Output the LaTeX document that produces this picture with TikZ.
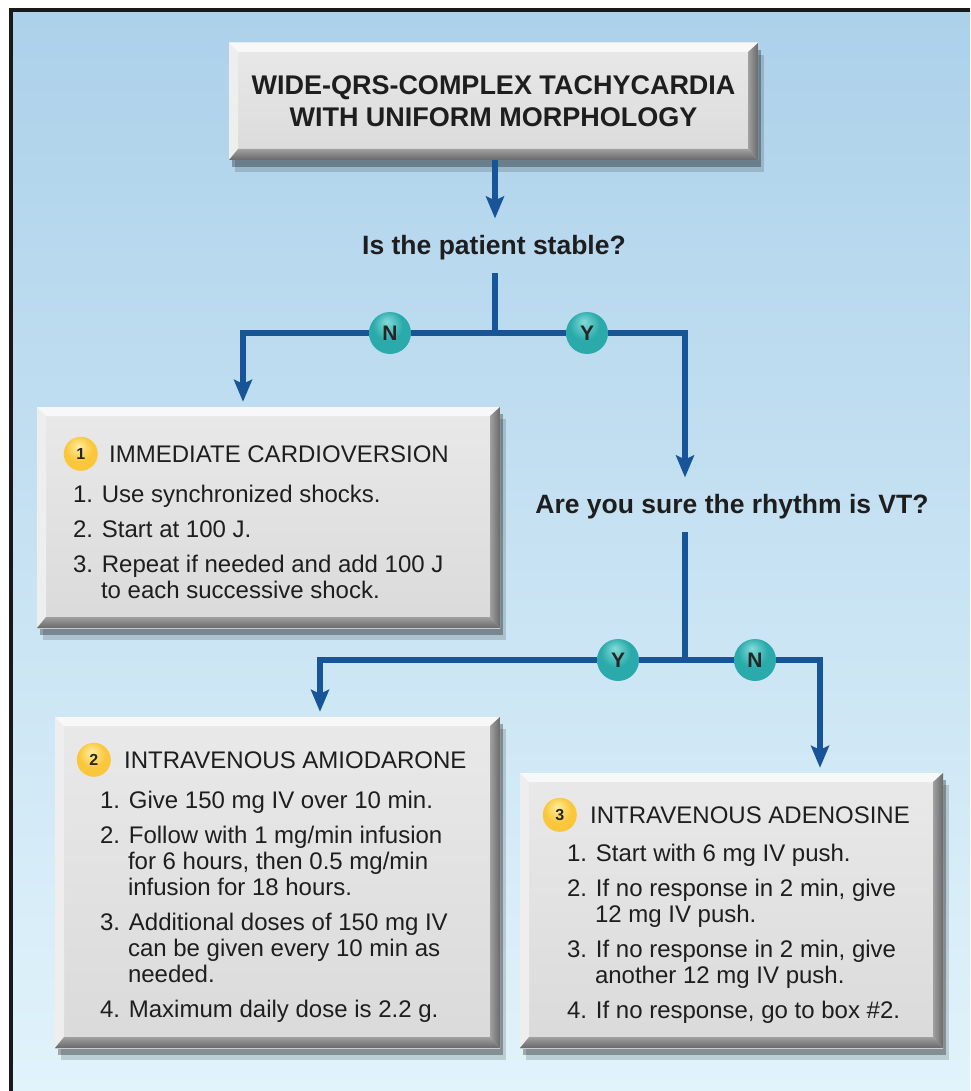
\documentclass[tikz,border=0pt]{standalone}
\usepackage{fontspec}
\setmainfont{Liberation Sans}
\usetikzlibrary{arrows.meta, positioning, shadows}

\definecolor{bgtop}{RGB}{172,209,234}
\definecolor{bgmid}{RGB}{193,224,241}
\definecolor{bgbot}{RGB}{225,243,251}
\definecolor{faceup}{RGB}{233,233,233}
\definecolor{facedown}{RGB}{218,218,218}
\definecolor{bevlight}{RGB}{248,248,248}
\definecolor{bevleft}{RGB}{238,238,238}
\definecolor{bevmid}{RGB}{160,160,160}
\definecolor{bevdark}{RGB}{105,105,105}
\definecolor{flowblue}{RGB}{24,84,152}
\definecolor{tealhi}{RGB}{130,220,218}
\definecolor{tealmid}{RGB}{42,170,170}
\definecolor{tealrim}{RGB}{22,118,124}
\definecolor{goldhi}{RGB}{255,238,160}
\definecolor{goldmid}{RGB}{250,198,58}
\definecolor{goldrim}{RGB}{205,145,30}
\definecolor{inktext}{RGB}{30,30,30}

\pgfdeclareradialshading{tealball}{\pgfpoint{-4bp}{14bp}}{color(0bp)=(tealhi); color(18bp)=(tealmid); color(38bp)=(tealmid); color(50bp)=(tealrim)}
\pgfdeclareradialshading{goldball}{\pgfpoint{-4bp}{12bp}}{color(0bp)=(goldhi); color(20bp)=(goldmid); color(38bp)=(goldmid); color(50bp)=(goldrim)}

\newcommand{\contline}{\hspace*{28pt}}

\tikzset{
    panel/.style={rectangle, inner sep=0pt, top color=faceup, bottom color=facedown,
        drop shadow={shadow xshift=6pt, shadow yshift=-12pt, opacity=.15, fill=black},
        drop shadow={shadow xshift=3pt, shadow yshift=-7pt, opacity=.3, fill=black},
        path picture={
            \fill[bevleft] (path picture bounding box.north west) -- (path picture bounding box.south west) -- ++(9pt,9pt) -- ([shift={(9pt,-9pt)}]path picture bounding box.north west) -- cycle;
            \fill[bevlight] (path picture bounding box.north west) -- (path picture bounding box.north east) -- ++(-10pt,-9pt) -- ([shift={(9pt,-9pt)}]path picture bounding box.north west) -- cycle;
            \shade[left color=bevmid, right color=bevdark] (path picture bounding box.north east) -- (path picture bounding box.south east) -- ++(-10pt,11pt) -- ([shift={(-10pt,-9pt)}]path picture bounding box.north east) -- cycle;
            \shade[top color=bevmid, bottom color=bevdark] (path picture bounding box.south west) -- (path picture bounding box.south east) -- ++(-10pt,11pt) -- ([shift={(9pt,11pt)}]path picture bounding box.south west) -- cycle;
        }},
    titlepanel/.style={panel, align=center, text=inktext, font=\fontsize{27}{32}\selectfont\bfseries},
    question/.style={inner xsep=2pt, inner ysep=12pt, text=inktext, font=\fontsize{26.5}{30}\selectfont\bfseries},
    answer/.style={circle, minimum size=42pt, inner sep=0pt, shading=tealball, text=black!85, font=\fontsize{21}{21}\selectfont\bfseries},
    badge/.style={circle, minimum size=34pt, inner sep=0pt, shading=goldball, text=black!85, font=\fontsize{16}{16}\selectfont\bfseries},
    headtext/.style={inner sep=0pt, anchor=west, text=inktext, font=\fontsize{24}{26}\selectfont},
    steps/.style={inner sep=0pt, anchor=north west, align=left, text=inktext, font=\fontsize{24}{26}\selectfont},
    flowline/.style={draw=flowblue, line width=6pt, line join=miter},
    flowarrow/.style={flowline, shorten >=5pt, -{Stealth[length=22pt, width=18pt, inset=4pt]}}
}

\begin{document}
\begin{tikzpicture}[x=1pt, y=-1pt]
\useasboundingbox (0,0) rectangle (970,1091);

% backdrop and frame
\shade[top color=bgtop, middle color=bgmid, bottom color=bgbot] (11,10) rectangle (970,1091);
\draw[line width=4pt, black!90] (970,10) -- (11,10) -- (11,1091);

% start
\node[titlepanel, minimum width=529pt, minimum height=117pt] (start) at (493.5,101.5) {WIDE-QRS-COMPLEX TACHYCARDIA\\WITH UNIFORM MORPHOLOGY};

% questions
\node[question] (stable) at (494,248) {Is the patient stable?};
\node[question] (sure) at (732,507) {Are you sure the rhythm is VT?};

% branch points
\coordinate (fork1) at (495,333);
\coordinate (fork2) at (685,660);
\coordinate (cardiodrop) at (243,333);
\coordinate (suredrop) at (685,333);
\coordinate (amiodrop) at (320,660);
\coordinate (adenodrop) at (820,660);

% treatment boxes
\node[panel, minimum width=463pt, minimum height=221pt] (cardio) at (268.5,517.5) {};
\node[panel, minimum width=445pt, minimum height=331pt] (amio) at (277.5,882.5) {};
\node[panel, minimum width=423pt, minimum height=275pt] (adeno) at (731.5,910.5) {};

% box 1
\node[badge] (b1) at ([shift={(44pt,-47pt)}]cardio.north west) {1};
\node[headtext, right=11pt of b1] (h1) {IMMEDIATE CARDIOVERSION};
\node[steps] (s1) at ([shift={(36pt,-78pt)}]cardio.north west) {1. Use synchronized shocks.\\[9pt]
2. Start at 100 J.\\[9pt]
3. Repeat if needed and add 100 J\\
\contline to each successive shock.};

% box 2
\node[badge] (b2) at ([shift={(39pt,-43pt)}]amio.north west) {2};
\node[headtext, right=13pt of b2] (h2) {INTRAVENOUS AMIODARONE};
\node[steps] (s2) at ([shift={(45pt,-74pt)}]amio.north west) {1. Give 150 mg IV over 10 min.\\[9pt]
2. Follow with 1 mg/min infusion\\
\contline for 6 hours, then 0.5 mg/min\\
\contline infusion for 18 hours.\\[9pt]
3. Additional doses of 150 mg IV\\
\contline can be given every 10 min as\\
\contline needed.\\[9pt]
4. Maximum daily dose is 2.2 g.};

% box 3
\node[badge] (b3) at ([shift={(40pt,-42pt)}]adeno.north west) {3};
\node[headtext, right=13pt of b3] (h3) {INTRAVENOUS ADENOSINE};
\node[steps] (s3) at ([shift={(47pt,-71pt)}]adeno.north west) {1. Start with 6 mg IV push.\\[9pt]
2. If no response in 2 min, give\\
\contline 12 mg IV push.\\[9pt]
3. If no response in 2 min, give\\
\contline another 12 mg IV push.\\[9pt]
4. If no response, go to box \#2.};

% answer balls
\node[answer] (n1) at (390,333) {N};
\node[answer] (y1) at (587,333) {Y};
\node[answer] (y2) at (618,660) {Y};
\node[answer] (n2) at (755,660) {N};

% connectors
\draw[flowarrow] (start.south -| fork1) -- (stable.north -| fork1);
\draw[flowline] (stable.south -| fork1) -- (fork1);
\draw[flowline] (fork1) -- (n1);
\draw[flowarrow] (n1) -- (cardiodrop) -- (cardiodrop |- cardio.north);
\draw[flowline] (fork1) -- (y1);
\draw[flowarrow] (y1) -- (suredrop) -- (suredrop |- sure.north);
\draw[flowline] (sure.south -| fork2) -- (fork2);
\draw[flowline] (fork2) -- (y2);
\draw[flowarrow] (y2) -- (amiodrop) -- (amiodrop |- amio.north);
\draw[flowline] (fork2) -- (n2);
\draw[flowarrow] (n2) -- (adenodrop) -- (adenodrop |- adeno.north);

\end{tikzpicture}
\end{document}
